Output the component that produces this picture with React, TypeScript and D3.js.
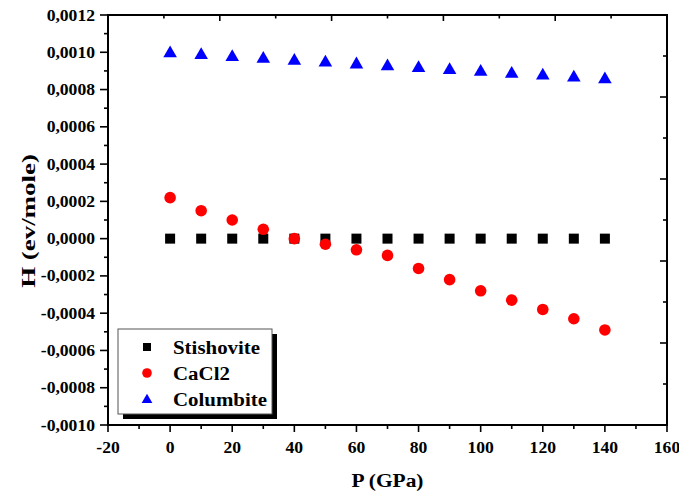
import React from "react";
import * as d3 from "d3";

// Pressure points (GPa)
const pressure = [0, 10, 20, 30, 40, 50, 60, 70, 80, 90, 100, 110, 120, 130, 140];

// Enthalpy differences (eV/mole) for each phase
const stishovite = [0, 0, 0, 0, 0, 0, 0, 0, 0, 0, 0, 0, 0, 0, 0];
const cacl2 = [
  0.00022, 0.00015, 0.0001, 0.00005, 0.0, -0.00003, -0.00006, -0.00009,
  -0.00016, -0.00022, -0.00028, -0.00033, -0.00038, -0.00043, -0.00049,
];
const columbite = [
  0.001, 0.00099, 0.00098, 0.00097, 0.00096, 0.00095, 0.00094, 0.00093,
  0.00092, 0.00091, 0.0009, 0.00089, 0.00088, 0.00087, 0.00086,
];

const xTicks = [-20, 0, 20, 40, 60, 80, 100, 120, 140, 160];
const yTicks = [-0.001, -0.0008, -0.0006, -0.0004, -0.0002, 0, 0.0002, 0.0004, 0.0006, 0.0008, 0.001, 0.0012];

const seriesNames = ["Stishovite", "CaCl2", "Columbite"];

const W = 679;
const H = 493;
const plot = { left: 108, right: 667, top: 15, bottom: 425 };
const FONT = "'Liberation Serif', 'Times New Roman', serif";
const SX = 1.1;

const locale = d3.formatLocale({
  decimal: ",",
  thousands: ".",
  grouping: [3],
  currency: ["", ""],
  minus: "-",
});
const fmtY = locale.format(".4f");

export default function App() {
  const x = d3.scaleLinear().domain([-20, 160]).range([plot.left, plot.right]);
  const y = d3.scaleLinear().domain([-0.001, 0.0012]).range([plot.bottom, plot.top]);

  const xMinor = d3.range(-20, 161, 10);
  const yMinor = d3.range(-10, 13, 1).map((v) => v / 10000);

  // Mirrored frame ticks on the top and right edges (10 equal divisions)
  const topTicks = d3.range(1, 10).map((i) => ({
    pos: plot.left + ((plot.right - plot.left) * i) / 10,
    major: i % 2 === 0,
  }));
  const rightTicks = d3.range(1, 10).map((i) => ({
    pos: plot.top + ((plot.bottom - plot.top) * i) / 10,
    major: i % 2 === 0,
  }));

  const tri = d3.symbol().type(d3.symbolTriangle);
  const triPath = tri.size(80)() as string;
  const triLegend = tri.size(50)() as string;

  const legend = { x: 118, y: 329, w: 154, h: 85 };
  const rowY = [347, 373, 399];

  return (
    <svg
      width={W}
      height={H}
      style={{ position: "absolute", left: 0, top: 0, background: "#fff" }}
      fontFamily={FONT}
      fontWeight="bold"
    >
      <rect x={0} y={0} width={W} height={H} fill="#fff" />

      {/* Data points */}
      {pressure.map((p, i) => (
        <rect
          key={"s" + i}
          x={x(p) - 5}
          y={y(stishovite[i]) - 5}
          width={10}
          height={10}
          fill="#000"
        />
      ))}
      {pressure.map((p, i) => (
        <circle key={"c" + i} cx={x(p)} cy={y(cacl2[i])} r={5.8} fill="#ff0000" />
      ))}
      {pressure.map((p, i) => (
        <path
          key={"t" + i}
          d={triPath}
          transform={`translate(${x(p)},${y(columbite[i]) + 1})`}
          fill="#0000ff"
        />
      ))}

      {/* Frame */}
      <rect
        x={plot.left}
        y={plot.top}
        width={plot.right - plot.left}
        height={plot.bottom - plot.top}
        fill="none"
        stroke="#000"
        strokeWidth={2}
      />

      {/* Bottom axis ticks */}
      {xMinor.map((v) => {
        const major = v % 20 === 0;
        return (
          <line
            key={"xt" + v}
            x1={x(v)}
            x2={x(v)}
            y1={plot.bottom}
            y2={plot.bottom + (major ? 7 : 4)}
            stroke="#000"
            strokeWidth={1.6}
          />
        );
      })}
      {xTicks.map((v) => (
        <text
          key={"xl" + v}
          transform={`translate(${x(v)},453) scale(${SX},1)`}
          textAnchor="middle"
          fontSize={16}
        >
          {v}
        </text>
      ))}

      {/* Left axis ticks */}
      {yMinor.map((v, i) => {
        const major = i % 2 === 0;
        return (
          <line
            key={"yt" + i}
            x1={plot.left - (major ? 8 : 4)}
            x2={plot.left}
            y1={y(v)}
            y2={y(v)}
            stroke="#000"
            strokeWidth={1.6}
          />
        );
      })}
      {yTicks.map((v, i) => (
        <text
          key={"yl" + i}
          transform={`translate(95,${y(v) + 5.5}) scale(${SX},1)`}
          textAnchor="end"
          fontSize={16}
        >
          {fmtY(v)}
        </text>
      ))}

      {/* Top and right frame ticks, pointing inward */}
      {topTicks.map((t, i) => (
        <line
          key={"tt" + i}
          x1={t.pos}
          x2={t.pos}
          y1={plot.top}
          y2={plot.top + (t.major ? 6 : 3.5)}
          stroke="#000"
          strokeWidth={1.6}
        />
      ))}
      {rightTicks.map((t, i) => (
        <line
          key={"rt" + i}
          x1={plot.right - (t.major ? 7 : 4)}
          x2={plot.right}
          y1={t.pos}
          y2={t.pos}
          stroke="#000"
          strokeWidth={1.6}
        />
      ))}

      {/* Axis titles */}
      <text
        transform={`translate(${(plot.left + plot.right) / 2},487) scale(${SX},1)`}
        textAnchor="middle"
        fontSize={19.5}
      >
        P (GPa)
      </text>
      <text
        transform={`translate(35,${(plot.top + plot.bottom) / 2 + 1}) rotate(-90) scale(1.38,1)`}
        textAnchor="middle"
        fontSize={19.5}
      >
        H (ev/mole)
      </text>

      {/* Legend with drop shadow */}
      <rect x={legend.x + 5} y={legend.y + 5} width={legend.w} height={legend.h} fill="#000" />
      <rect
        x={legend.x}
        y={legend.y}
        width={legend.w}
        height={legend.h}
        fill="#fff"
        stroke="#555"
        strokeWidth={1}
      />
      <rect x={147 - 4} y={rowY[0] - 4} width={8} height={8} fill="#000" />
      <circle cx={147} cy={rowY[1]} r={4.8} fill="#ff0000" />
      <path d={triLegend} transform={`translate(147,${rowY[2] + 1})`} fill="#0000ff" />
      {seriesNames.map((name, i) => (
        <text
          key={name}
          transform={`translate(173,${rowY[i] + 6.5}) scale(${SX},1)`}
          fontSize={19}
        >
          {name}
        </text>
      ))}
    </svg>
  );
}
